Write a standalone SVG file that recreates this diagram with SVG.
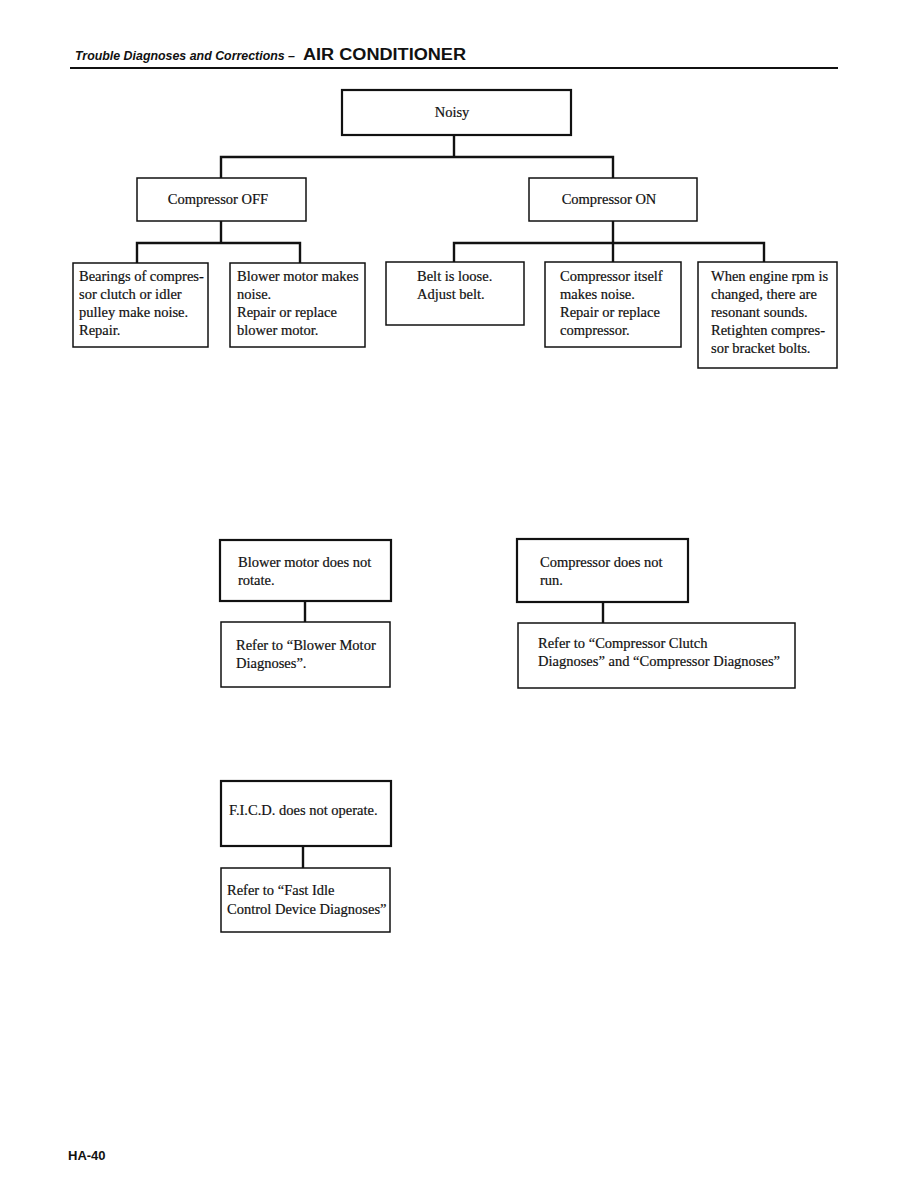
<svg xmlns="http://www.w3.org/2000/svg" width="918" height="1188" viewBox="0 0 918 1188">
<style>
.bx{fill:#fff;stroke:#111;stroke-width:1.5}
.bt{fill:#fff;stroke:#111;stroke-width:2.2}
.t{font-family:"Liberation Serif","Times New Roman",serif;font-size:14.5px;fill:#111;stroke:#111;stroke-width:0.2}
.c{text-anchor:middle}
.cn{fill:none;stroke:#111;stroke-width:2.4}
.hd{font-family:"Liberation Sans",Arial,sans-serif;fill:#111;font-weight:bold}
</style>
<rect width="918" height="1188" fill="#fff"/>
<g id="header">
<text class="hd" x="75" y="60" font-size="12" font-style="italic" textLength="220" lengthAdjust="spacingAndGlyphs">Trouble Diagnoses and Corrections –</text>
<text class="hd" x="303" y="60" font-size="16" textLength="163" lengthAdjust="spacingAndGlyphs">AIR CONDITIONER</text>
<line x1="70" y1="68" x2="838" y2="68" stroke="#111" stroke-width="2"/>
</g>
<g id="connectors">
<polyline class="cn" points="454,135 454,157"/>
<polyline class="cn" points="221,178 221,157 613,157 613,178"/>
<polyline class="cn" points="221,221 221,243"/>
<polyline class="cn" points="137,263 137,243 300,243 300,263"/>
<polyline class="cn" points="613,221 613,262"/>
<polyline class="cn" points="454,262 454,243 764,243 764,262"/>
<polyline class="cn" points="305,601 305,622"/>
<polyline class="cn" points="603,602 603,623"/>
<polyline class="cn" points="303,846 303,868"/>
</g>
<g id="noisy"><rect class="bt" x="342" y="90" width="229" height="45" stroke-width="2.6"/><text class="t c" x="452" y="117">Noisy</text></g>
<g id="comp-off"><rect class="bx" x="137" y="178" width="169" height="43"/><text class="t c" x="218" y="204">Compressor OFF</text></g>
<g id="comp-on"><rect class="bx" x="529" y="178" width="168" height="43"/><text class="t c" x="609" y="204">Compressor ON</text></g>
<g id="bearings"><rect class="bx" x="73" y="263" width="135" height="84"/>
<text class="t" x="79" y="281">Bearings of compres-</text><text class="t" x="79" y="299">sor clutch or idler</text><text class="t" x="79" y="317">pulley make noise.</text><text class="t" x="79" y="335">Repair.</text></g>
<g id="blower-noise"><rect class="bx" x="230" y="263" width="135" height="84"/>
<text class="t" x="237" y="281">Blower motor makes</text><text class="t" x="237" y="299">noise.</text><text class="t" x="237" y="317">Repair or replace</text><text class="t" x="237" y="335">blower motor.</text></g>
<g id="belt"><rect class="bx" x="386" y="262" width="138" height="63"/>
<text class="t" x="417" y="281">Belt is loose.</text><text class="t" x="417" y="299">Adjust belt.</text></g>
<g id="comp-itself"><rect class="bx" x="545" y="262" width="136" height="85"/>
<text class="t" x="560" y="281">Compressor itself</text><text class="t" x="560" y="299">makes noise.</text><text class="t" x="560" y="317">Repair or replace</text><text class="t" x="560" y="335">compressor.</text></g>
<g id="engine-rpm"><rect class="bx" x="698" y="262" width="139" height="106"/>
<text class="t" x="711" y="281">When engine rpm is</text><text class="t" x="711" y="299">changed, there are</text><text class="t" x="711" y="317">resonant sounds.</text><text class="t" x="711" y="335">Retighten compres-</text><text class="t" x="711" y="353">sor bracket bolts.</text></g>
<g id="blower-rotate"><rect class="bt" x="220" y="540" width="171" height="61"/>
<text class="t" x="238" y="567">Blower motor does not</text><text class="t" x="238" y="585">rotate.</text></g>
<g id="blower-refer"><rect class="bx" x="221" y="622" width="169" height="65"/>
<text class="t" x="236" y="650">Refer to “Blower Motor</text><text class="t" x="236" y="668">Diagnoses”.</text></g>
<g id="comp-run"><rect class="bt" x="517" y="539" width="171" height="63"/>
<text class="t" x="540" y="567">Compressor does not</text><text class="t" x="540" y="585">run.</text></g>
<g id="comp-refer"><rect class="bx" x="518" y="623" width="277" height="65"/>
<text class="t" x="538" y="648">Refer to “Compressor Clutch</text><text class="t" x="538" y="666">Diagnoses” and “Compressor Diagnoses”</text></g>
<g id="ficd"><rect class="bt" x="221" y="781" width="170" height="65"/>
<text class="t" x="229" y="815">F.I.C.D. does not operate.</text></g>
<g id="ficd-refer"><rect class="bx" x="221" y="868" width="169" height="64"/>
<text class="t" x="227" y="895">Refer to “Fast Idle</text><text class="t" x="227" y="914">Control Device Diagnoses”</text></g>
<g id="footer"><text class="hd" x="68" y="1160" font-size="13">HA-40</text></g>
</svg>
